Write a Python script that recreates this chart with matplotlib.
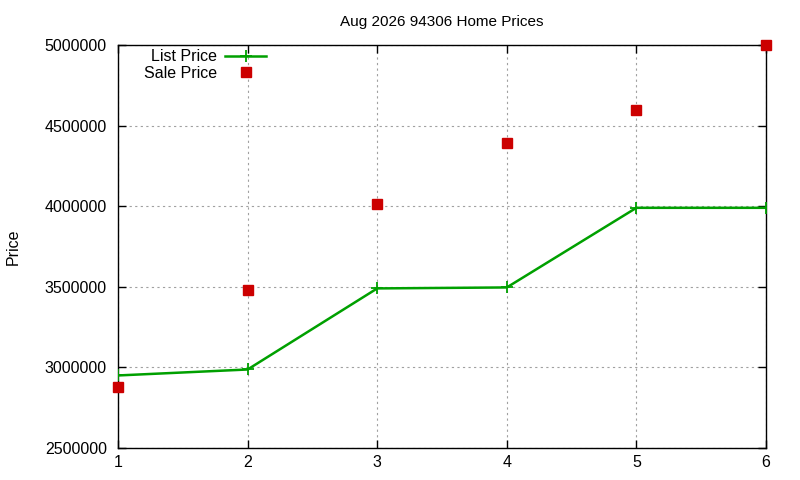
import matplotlib
matplotlib.use("Agg")
import matplotlib.pyplot as plt
from matplotlib.ticker import FuncFormatter

title = "Aug 2026 94306 Home Prices"
list_x = [1, 2, 3, 4, 5, 6]
list_price = [2950000, 2987000, 3490000, 3496000, 3990000, 3990000]
sale_x = [1, 2, 3, 4, 5, 6]
sale_price = [2877000, 3483000, 4014000, 4389000, 4595000, 4998000]
y_ticks = [2500000, 3000000, 3500000, 4000000, 4500000, 5000000]
x_ticks = [1, 2, 3, 4, 5, 6]

plt.rcParams['font.family'] = ['Liberation Sans', 'DejaVu Sans']
plt.rcParams['font.size'] = 11.5

fig = plt.figure(figsize=(8, 4.8), dpi=100)
ax = fig.add_axes([118/800, 1-448/480, (766-118)/800, (448-45)/480])

ax.plot(list_x, list_price, color='#00a000', lw=1.8, marker='+', ms=9, mew=1.3,
        label='List Price', zorder=3)
ax.plot(sale_x, sale_price, ls='none', marker='s', ms=6.5, color='#cc0000',
        mec='#cc0000', label='Sale Price', zorder=4, clip_on=False)

ax.set_xlim(1, 6)
ax.set_ylim(2500000, 5000000)
ax.set_xticks(x_ticks)
ax.set_yticks(y_ticks)
ax.yaxis.set_major_formatter(FuncFormatter(lambda v, p: f"{int(v)}"))
ax.grid(True, color='#a0a0a0', ls=(0, (2, 3)), lw=0.8)
ax.tick_params(direction='in', length=6, width=1, top=True, right=True,
               labelsize=11.5, colors='black')
ax.tick_params(axis='y', pad=8)
ax.tick_params(axis='x', pad=5)
for s in ax.spines.values():
    s.set_linewidth(1.0)

ax.set_title(title, fontsize=11, pad=14)
ax.set_ylabel('Price', fontsize=11.5, labelpad=17)

leg = ax.legend(loc='upper left', bbox_to_anchor=(0.03, 1.005), frameon=False,
                markerfirst=False, handlelength=2.6, handletextpad=0.5,
                labelspacing=0.1, fontsize=11.5, borderaxespad=0)
fig.savefig('out.png', dpi=100)
